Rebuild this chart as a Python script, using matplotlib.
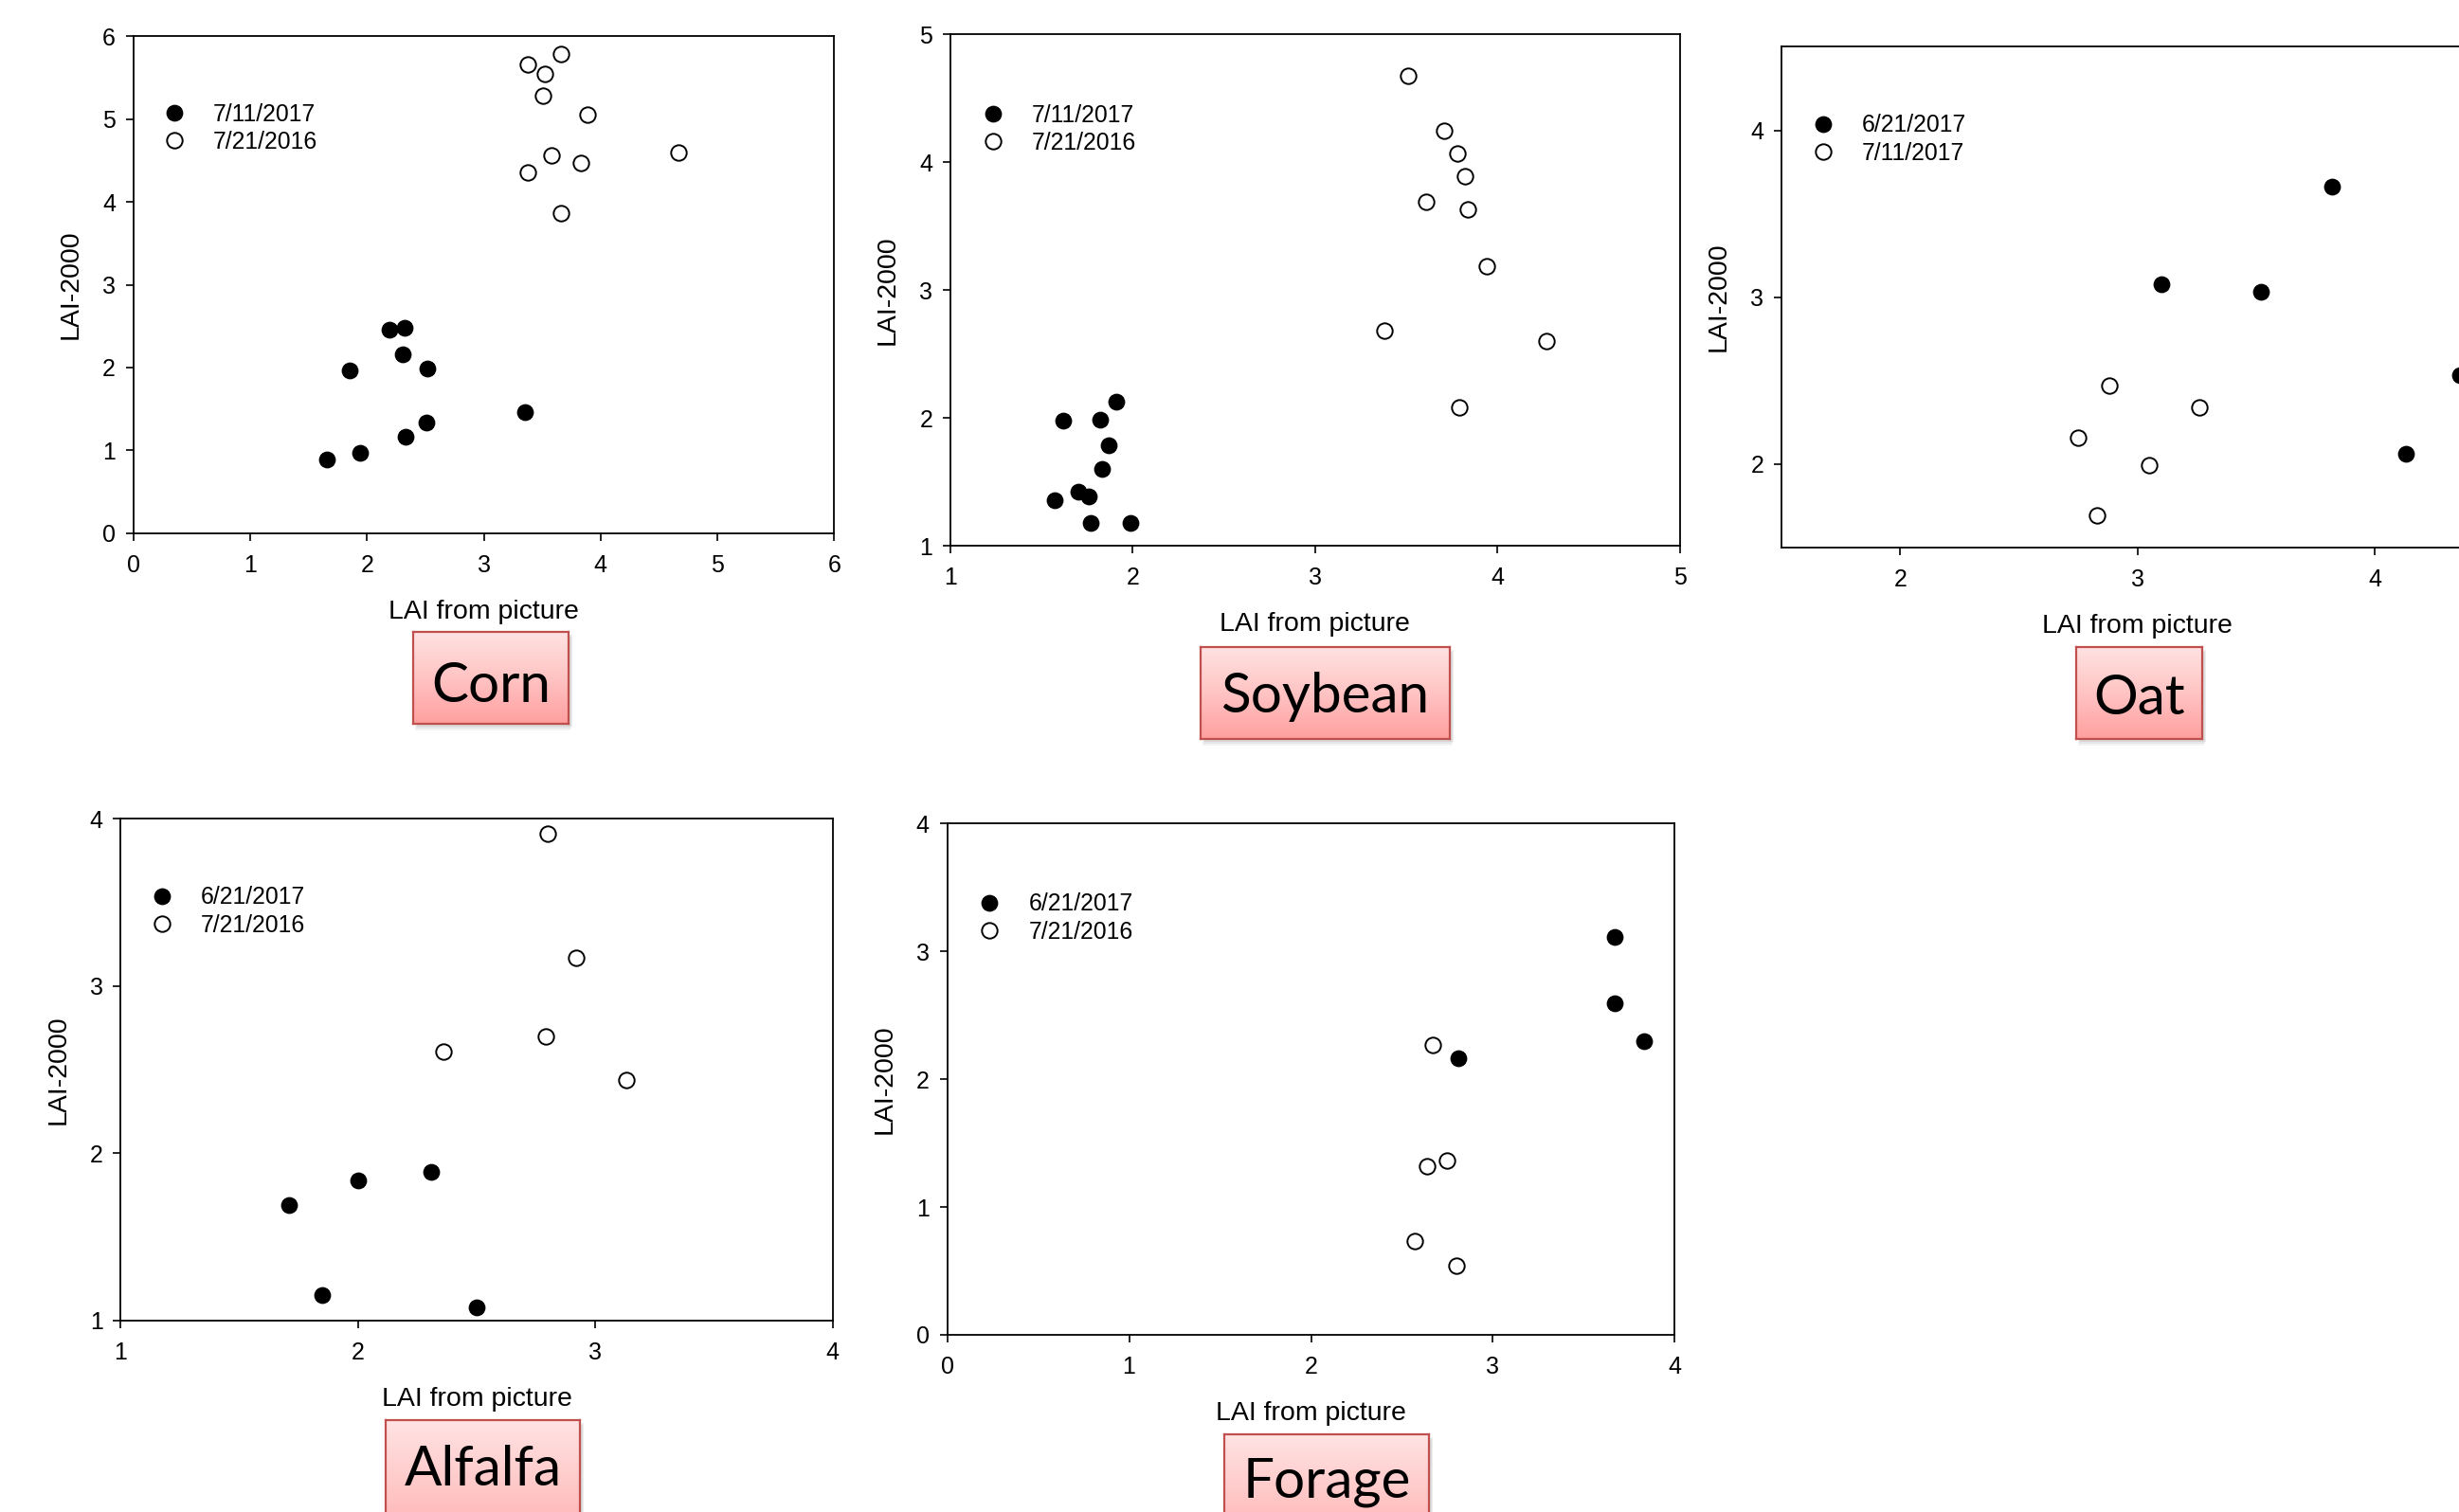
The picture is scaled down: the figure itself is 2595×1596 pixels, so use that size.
import numpy as np
import matplotlib
matplotlib.use("Agg")
import matplotlib.pyplot as plt
from matplotlib.colors import LinearSegmentedColormap
from matplotlib.patches import Rectangle

plt.rcParams['font.family'] = ['Liberation Sans', 'DejaVu Sans']

# ---------------- data ----------------
corn_a_x = [1.66, 1.94, 1.85, 2.19, 2.32, 2.31, 2.52, 2.33, 2.51, 3.35]
corn_a_y = [0.89, 0.97, 1.97, 2.46, 2.48, 2.16, 1.99, 1.17, 1.34, 1.46]
corn_b_x = [3.38, 3.52, 3.66, 3.51, 3.89, 3.58, 3.83, 3.38, 3.66, 4.67]
corn_b_y = [5.66, 5.54, 5.79, 5.28, 5.05, 4.56, 4.47, 4.36, 3.86, 4.60]

soy_a_x = [1.57, 1.62, 1.70, 1.76, 1.77, 1.99, 1.82, 1.91, 1.87, 1.83]
soy_a_y = [1.36, 1.98, 1.42, 1.39, 1.18, 1.18, 1.99, 2.13, 1.79, 1.60]
soy_b_x = [3.51, 3.71, 3.78, 3.82, 3.61, 3.84, 3.94, 3.38, 4.27, 3.79]
soy_b_y = [4.68, 4.25, 4.07, 3.89, 3.69, 3.63, 3.19, 2.68, 2.60, 2.08]

oat_a_x = [3.10, 3.52, 3.82, 4.13, 4.36]
oat_a_y = [3.08, 3.03, 3.66, 2.06, 2.53]
oat_b_x = [2.75, 2.88, 3.05, 2.83, 3.26]
oat_b_y = [2.16, 2.47, 1.99, 1.69, 2.34]

alf_a_x = [1.71, 1.85, 2.00, 2.31, 2.50]
alf_a_y = [1.69, 1.15, 1.84, 1.89, 1.08]
alf_b_x = [2.80, 2.92, 2.36, 2.79, 3.13]
alf_b_y = [3.91, 3.17, 2.61, 2.70, 2.44]

for_a_x = [2.81, 3.67, 3.67, 3.83]
for_a_y = [2.16, 3.11, 2.59, 2.30]
for_b_x = [2.67, 2.64, 2.75, 2.57, 2.80]
for_b_y = [2.27, 1.32, 1.36, 0.73, 0.54]

crops = ["Corn", "Soybean", "Oat", "Alfalfa", "Forage"]
labels_a = ["7/11/2017", "7/11/2017", "6/21/2017", "6/21/2017", "6/21/2017"]
labels_b = ["7/21/2016", "7/21/2016", "7/11/2017", "7/21/2016", "7/21/2016"]
xlims = [(0, 6), (1, 5), (1.5, 4.5), (1, 4), (0, 4)]
ylims = [(0, 6), (1, 5), (1.5, 4.5), (1, 4), (0, 4)]
xticks = [range(0, 7), range(1, 6), range(2, 5), range(1, 5), range(0, 5)]
yticks = [range(0, 7), range(1, 6), range(2, 5), range(1, 5), range(0, 5)]
series = [(corn_a_x, corn_a_y, corn_b_x, corn_b_y),
          (soy_a_x, soy_a_y, soy_b_x, soy_b_y),
          (oat_a_x, oat_a_y, oat_b_x, oat_b_y),
          (alf_a_x, alf_a_y, alf_b_x, alf_b_y),
          (for_a_x, for_a_y, for_b_x, for_b_y)]

# ---------------- layout ----------------
W, H = 2595, 1596
fig = plt.figure(figsize=(W / 100, H / 100), dpi=100)

# [left, bottom, width, height] in figure fraction
ax_pos = [
    [0.0542, 0.6473, 0.2851, 0.3288],
    [0.3865, 0.6390, 0.2966, 0.3382],
    [0.7245, 0.6380, 0.2895, 0.3310],
    [0.0491, 0.1266, 0.2895, 0.3320],
    [0.3852, 0.1172, 0.2959, 0.3382],
]
# box: [left, bottom, width, height]
box_pos = [
    [0.1680, 0.5213, 0.0632, 0.0608],
    [0.4883, 0.5113, 0.1013, 0.0608],
    [0.8443, 0.5113, 0.0513, 0.0608],
    [0.1568, -0.0400, 0.0790, 0.1008],
    [0.4979, -0.0400, 0.0832, 0.0914],
]
text_base = [0.5360, 0.5290, 0.5275, 0.0175, 0.0100]

grad_cmap = LinearSegmentedColormap.from_list("pinkgrad", ["#FF9F9F", "#FFC4C4", "#FFE3E3"])
grad = np.linspace(0, 1, 256).reshape(-1, 1)

for i in range(5):
    ax = fig.add_axes(ax_pos[i])
    ax_x, ax_y, bx, by = series[i]
    ax.plot(ax_x, ax_y, linestyle='none', marker='o', markersize=11.8,
            markerfacecolor='black', markeredgecolor='black', label=labels_a[i])
    ax.plot(bx, by, linestyle='none', marker='o', markersize=11.8,
            markerfacecolor='white', markeredgecolor='black', markeredgewidth=1.4,
            label=labels_b[i])
    ax.set_xlim(*xlims[i])
    ax.set_ylim(*ylims[i])
    ax.set_xticks(list(xticks[i]))
    ax.set_yticks(list(yticks[i]))
    ax.tick_params(direction='out', length=6, width=1.2, labelsize=18, pad=10)
    ax.tick_params(axis='y', pad=7.5)
    for s in ax.spines.values():
        s.set_linewidth(1.3)
    wpx = ax_pos[i][2] * W
    hpx = ax_pos[i][3] * H
    ax.set_xlabel("LAI from picture", fontsize=20.5)
    ax.set_ylabel("LAI-2000", fontsize=20.5)
    ax.xaxis.set_label_coords(0.5, -83 / hpx)
    ax.xaxis.label.set_va('center')
    ax.yaxis.set_label_coords(-66 / wpx, 0.5)
    ax.yaxis.label.set_va('center')
    leg_x = 0.058 - 12 / wpx
    ax.legend(loc='center left', bbox_to_anchor=(leg_x, 0.815), frameon=False,
              fontsize=17.8, handlelength=1.0, handletextpad=1.15,
              labelspacing=0.22, borderpad=0, borderaxespad=0)

    # crop name box with soft shadow and gradient fill
    bp = box_pos[i]
    for k, a in enumerate([0.10, 0.12, 0.16]):
        off = 7 - 2 * k
        sh = Rectangle((bp[0] + (2 + k) / W, bp[1] - off / H), bp[2], bp[3],
                       transform=fig.transFigure, facecolor='#8a8a8a',
                       edgecolor='none', alpha=a, zorder=0)
        fig.add_artist(sh)
    bax = fig.add_axes(bp)
    bax.imshow(grad, aspect='auto', cmap=grad_cmap, origin='lower', extent=[0, 1, 0, 1])
    bax.set_xticks([])
    bax.set_yticks([])
    for s in bax.spines.values():
        s.set_color('#C0504D')
        s.set_linewidth(1.6)
    fig.text(bp[0] + bp[2] / 2, text_base[i], crops[i], ha='center', va='baseline',
             fontsize=42, family=['Lato', 'DejaVu Sans'], color='black')

fig.savefig("out.png", dpi=100)
